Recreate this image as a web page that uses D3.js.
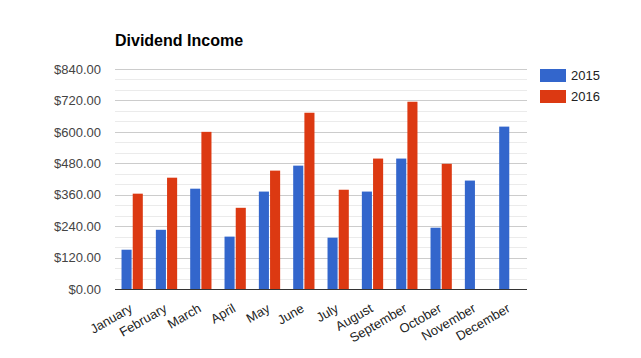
<!DOCTYPE html>
<html>
<head>
<meta charset="utf-8">
<script src="https://cdn.jsdelivr.net/npm/d3@7"></script>
<style>
body { margin: 0; background: #fff; }
text { font-family: Arial, "Liberation Sans", sans-serif; }
</style>
</head>
<body>
<div id="graph"></div>
<script>
var months = ["January","February","March","April","May","June","July","August","September","October","November","December"];
var years = ["2015","2016"];
var income2015 = [150,226,383,200,372,471,196,372,498,234,414,620];
var income2016 = [364,425,600,310,452,673,379,498,715,478,0,0];
var yTicks = [0,120,240,360,480,600,720,840];
var colors = ["#3366cc","#dc3912"];

var svg = d3.select("#graph").append("svg").attr("width",641).attr("height",358);

// plot area (note: "top" is reserved by window, so use other names)
var plotL = 115, plotR = 527, plotT = 69, plotB = 289;

var x0 = d3.scaleBand().domain(months).range([plotL,plotR]).paddingInner(0.38).paddingOuter(0.19);
var x1 = d3.scaleBand().domain(years).range([0,x0.bandwidth()]).paddingInner(0.1);
var y = d3.scaleLinear().domain([0,840]).range([plotB,plotT]);

// minor grid every 40
var minor = d3.range(40,840,40).filter(function(v){ return v % 120 != 0; });
svg.append("g").selectAll("line").data(minor).enter().append("line")
  .attr("x1",plotL).attr("x2",plotR)
  .attr("y1",function(d){ return Math.round(y(d))+0.5; })
  .attr("y2",function(d){ return Math.round(y(d))+0.5; })
  .attr("stroke","#ebebeb");

// major grid + labels
var yAxis = d3.axisLeft(y).tickValues(yTicks).tickSize(0).tickPadding(14)
  .tickFormat(function(d){ return "$" + d3.format(",.2f")(d); });
var gy = svg.append("g").attr("transform","translate("+plotL+",0)").call(yAxis);
gy.select(".domain").remove();
gy.selectAll("text").attr("font-size",13).attr("fill","#444").attr("font-family","Arial, 'Liberation Sans', sans-serif");
svg.append("g").selectAll("line").data(yTicks.slice(1)).enter().append("line")
  .attr("x1",plotL).attr("x2",plotR)
  .attr("y1",function(d){ return Math.round(y(d))+0.5; })
  .attr("y2",function(d){ return Math.round(y(d))+0.5; })
  .attr("stroke","#cccccc");

// bars
var series = [income2015, income2016];
var groups = svg.append("g").selectAll("g").data(months).enter().append("g")
  .attr("transform",function(d){ return "translate("+x0(d)+",0)"; });
groups.selectAll("rect").data(function(d,i){
    return years.map(function(yr,j){ return {year:yr, value:series[j][i], c:colors[j]}; });
  }).enter().append("rect")
  .attr("x",function(d){ return x1(d.year); })
  .attr("width",x1.bandwidth())
  .attr("y",function(d){ return y(d.value); })
  .attr("height",function(d){ return plotB - y(d.value); })
  .attr("fill",function(d){ return d.c; });

// baseline
svg.append("line").attr("x1",plotL).attr("x2",plotR).attr("y1",plotB+0.5).attr("y2",plotB+0.5)
  .attr("stroke","#333").attr("stroke-width",1);

// x labels, rotated
svg.append("g").selectAll("text").data(months).enter().append("text")
  .attr("transform",function(d){ return "translate("+(x0(d)+x0.bandwidth()/2-1)+","+(plotB+18)+") rotate(-30)"; })
  .attr("text-anchor","end").attr("dy","0.35em")
  .attr("font-size",13).attr("fill","#222")
  .text(function(d){ return d; });

// title
svg.append("text").attr("x",plotL).attr("y",46).attr("font-size",16).attr("font-weight","bold")
  .attr("fill","#000").text("Dividend Income");

// legend
var leg = svg.append("g").selectAll("g").data(years).enter().append("g")
  .attr("transform",function(d,i){ return "translate(540,"+(69+i*21)+")"; });
leg.append("rect").attr("width",26).attr("height",13).attr("fill",function(d,i){ return colors[i]; });
leg.append("text").attr("x",31).attr("y",11).attr("font-size",13).attr("fill","#222").text(function(d){ return d; });
</script>
</body>
</html>
